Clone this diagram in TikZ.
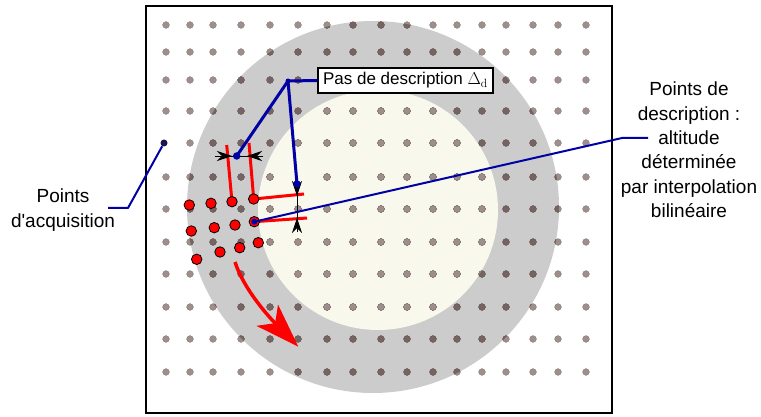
\documentclass[tikz,border=0pt]{standalone}
\usepackage{fontspec}
\newfontfamily\lsans{Liberation Sans}
\usetikzlibrary{arrows.meta}
\definecolor{ringgrey}{RGB}{204,204,204}
\definecolor{cream}{RGB}{248,248,236}
\definecolor{dotlight}{RGB}{158,142,140}
\definecolor{dotdark}{RGB}{118,100,98}
\definecolor{navy}{RGB}{0,0,165}
\definecolor{darkpt}{RGB}{28,22,75}
\definecolor{redpt}{RGB}{255,0,0}
\newcommand\mydotgrid[1]{%
  \foreach \x in {166,190,213,241,270,298,327,353,381,407,433,457,482,506,533,558,586}{%
    \foreach \y in {25,52,80,111,143,177,209,242,274,307,339,372}{%
      \def\skipdot{0}%
      \ifnum\x=166 \ifnum\y=143 \def\skipdot{1}\fi\fi
      \ifnum\x=298 \ifnum\y=177 \def\skipdot{1}\fi\fi
      \ifnum\skipdot=0 \fill[fill=#1, draw=#1!80!black, line width=0.3pt] (\x,\y) circle[radius=3.4pt];\fi
    }}}
\begin{document}
\begin{tikzpicture}[x=1pt,y=-1pt,
  reddot/.style={circle, fill=redpt, draw=black, line width=0.8pt, inner sep=0pt, minimum size=10.5pt},
  bluedot/.style={circle, fill=navy, inner sep=0pt, minimum size=#1},
  bluedot/.default=7.5pt,
  redline/.style={draw=redpt, line width=3pt},
  navyline/.style={draw=navy, line width=3pt, line join=round},
  navythin/.style={draw=navy, line width=2pt, line join=round},
  dimline/.style={draw=black, line width=0.8pt},
  dimarrow/.style={draw=black, line width=0.8pt, -{Stealth[length=15pt,width=10pt,inset=5pt]}},
  lbl/.style={font=\lsans\fontsize{19}{24.4}\selectfont, align=center, inner sep=0pt}
]
\useasboundingbox (0,0) rectangle (761,417);
\fill[white] (0,0) rectangle (761,417);
% discs
\fill[ringgrey] (373,207) circle[radius=186pt];
\fill[cream] (378,210) circle[radius=120pt];
% acquisition grid
\mydotgrid{dotlight}
\begin{scope}
  \clip (373,207) circle[radius=186pt];
  \mydotgrid{dotdark}
\end{scope}
\begin{scope}
  \clip (378,210) circle[radius=120pt];
  \mydotgrid{dotlight}
\end{scope}
% frame
\draw[line width=2pt] (146,6) rectangle (612,413);
% label box
\node[draw=black, fill=white, line width=1.3pt, minimum width=175pt, minimum height=25pt, inner sep=0pt,
      font=\lsans\fontsize{17}{20}\selectfont] (box) at (405.5,80.5) {Pas de description $\Delta_{\mathrm{d}}$};
% red dot positions
\foreach \n/\px/\py in {1/189.3/205, 2/211/203.3, 3/232/201.7, 4/253.7/199,
                        5/191.3/231, 6/214.3/227.7, 7/235/225, 8/254.3/221.7,
                        9/196.7/259.3, 10/220/252, 11/239.7/247.7, 12/258.3/242.7}
  \coordinate (r\n) at (\px,\py);
% red lines
\coordinate (rl1) at (226.7,145);
\coordinate (rl2) at (249,143);
\coordinate (rl3) at (304,194);
\coordinate (rl4) at (307,218);
\draw[redline] (rl1) -- (r3);
\draw[redline] (rl2) -- (r4) -- (rl3);
\draw[redline] (r8) -- (rl4);
% red dots
\foreach \n in {1,...,12} \node[reddot] (rd\n) at (r\n) {};
% red curved arrow
\coordinate (ra1) at (235,262);
\coordinate (ra2) at (298.3,346.7);
\draw[redpt, line width=3.5pt, -{Stealth[length=44pt,width=30pt,inset=11pt]}]
  (ra1) .. controls (244,290) and (270,318) .. (ra2);
% blue construction
\coordinate (bj) at (288,81);
\coordinate (bp1) at (236.7,156);
\coordinate (bp2) at (297,184);
\draw[navyline] (box.west) -- (bj) -- (bp1);
\draw[navyline] (bj) -- (bp2);
% dimension arrows
\coordinate (ha) at (215,156);
\coordinate (hb) at (263,156);
\coordinate (hat) at (232,156);
\coordinate (hbt) at (247,156);
\draw[dimline] (ha) -- (hb);
\draw[dimarrow] (ha) -- (hat);
\draw[dimarrow] (hb) -- (hbt);
\coordinate (va) at (297,184);
\coordinate (vb) at (297,232);
\coordinate (vat) at (297,196);
\coordinate (vbt) at (297,218);
\draw[dimline] (va) -- (vb);
\draw[dimarrow] (va) -- (vat);
\draw[dimarrow] (vb) -- (vbt);
% blue dots
\node[bluedot=5pt] (bjd) at (bj) {};
\node[bluedot] (bpd1) at (bp1) {};
\node[bluedot] (bpd2) at (bp2) {};
% right label and connector
\node[lbl] (ldesc) at (689,150) {Points de\\description :\\altitude\\déterminée\\par interpolation\\bilinéaire};
\coordinate (ld1) at (648,138);
\coordinate (ld2) at (622,138);
\draw[navythin] (ld1) -- (ld2) -- (r8);
\node[bluedot=6pt] (dp) at (r8) {};
% left label and connector
\node[lbl] (lacq) at (63,210) {Points\\d'acquisition};
\node[circle, fill=darkpt, inner sep=0pt, minimum size=7pt] (acq) at (164,143) {};
\coordinate (la1) at (108,208);
\coordinate (la2) at (128,208);
\draw[navythin] (la1) -- (la2) -- (acq);
\end{tikzpicture}
\end{document}
